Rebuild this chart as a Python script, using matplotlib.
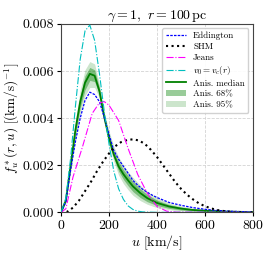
import matplotlib
matplotlib.use("Agg")
from matplotlib import pyplot as plt

plt.rcParams['font.family'] = 'serif'
plt.rcParams['font.serif'] = ['cmr10']
plt.rcParams['mathtext.fontset'] = 'cm'
plt.rcParams['axes.formatter.use_mathtext'] = True

# speeds (km/s) and f(u) values in units of 1e-3 (km/s)^-1
u_cyan = [0, 20, 40, 60, 80, 100, 120, 140, 160, 180, 200, 220, 240, 260, 280, 300, 320, 340, 360, 400, 800]
f_cyan = [0, 0.6, 2.3, 4.5, 6.5, 7.7, 7.95, 7.3, 5.9, 4.3, 2.9, 1.75, 1.0, 0.55, 0.27, 0.12, 0.05, 0.02, 0.01, 0, 0]

u_edd = [0, 20, 40, 60, 80, 100, 120, 140, 160, 180, 200, 220, 240, 260, 280, 300, 320, 340, 360, 380, 400,
         450, 500, 550, 600, 650, 700, 750, 800]
f_edd = [0, 0.45, 1.8, 3.0, 4.0, 4.75, 5.1, 5.0, 4.7, 4.05, 3.3, 2.62, 2.25, 1.95, 1.65, 1.35, 1.15, 0.98, 0.85,
         0.73, 0.63, 0.42, 0.3, 0.2, 0.13, 0.08, 0.05, 0.03, 0.02]

u_shm = [0, 25, 50, 75, 100, 125, 150, 175, 200, 225, 250, 275, 300, 325, 350, 375, 400, 425, 450, 475, 500,
         525, 550, 575, 600, 625, 650, 675, 700, 725, 750, 800]
f_shm = [0, 0.02, 0.2, 0.5, 0.9, 1.3, 1.75, 2.15, 2.5, 2.8, 2.98, 3.07, 3.1, 3.05, 2.9, 2.65, 2.35, 2.0, 1.65,
         1.3, 1.0, 0.75, 0.55, 0.38, 0.26, 0.17, 0.1, 0.06, 0.03, 0.01, 0, 0]

u_jeans = [0, 20, 50, 90, 130, 160, 180, 200, 240, 280, 320, 360, 400, 440, 480, 800]
f_jeans = [0, 0.15, 1.5, 2.8, 4.2, 4.65, 4.7, 4.55, 3.9, 2.7, 1.6, 0.8, 0.25, 0.05, 0.01, 0]

u_anis = [0, 20, 40, 60, 80, 100, 120, 140, 160, 180, 200, 220, 240, 260, 280, 300, 330, 360, 400, 450, 500,
          550, 600, 700, 800]
med = [0, 0.5, 2.0, 3.5, 4.7, 5.5, 5.88, 5.8, 5.15, 4.05, 3.15, 2.45, 1.95, 1.62, 1.35, 1.1, 0.82, 0.6, 0.4,
       0.25, 0.16, 0.1, 0.07, 0.03, 0.01]
lo68 = [0, 0.45, 1.85, 3.3, 4.45, 5.2, 5.6, 5.55, 5.0, 3.95, 3.0, 2.3, 1.75, 1.4, 1.12, 0.88, 0.63, 0.45, 0.29,
        0.17, 0.1, 0.06, 0.04, 0.015, 0.005]
hi68 = [0, 0.55, 2.15, 3.7, 4.95, 5.8, 6.15, 6.05, 5.3, 4.15, 3.3, 2.6, 2.15, 1.82, 1.55, 1.3, 1.0, 0.75, 0.52,
        0.33, 0.22, 0.14, 0.1, 0.045, 0.02]
lo95 = [0, 0.4, 1.7, 3.1, 4.2, 4.95, 5.3, 5.3, 4.85, 3.85, 2.85, 2.15, 1.58, 1.22, 0.95, 0.72, 0.5, 0.34, 0.2,
        0.11, 0.06, 0.035, 0.02, 0.008, 0.003]
hi95 = [0, 0.6, 2.3, 3.9, 5.2, 6.05, 6.4, 6.3, 5.45, 4.25, 3.45, 2.8, 2.35, 2.0, 1.72, 1.48, 1.15, 0.88, 0.62,
        0.4, 0.27, 0.18, 0.13, 0.06, 0.03]

def sc(L):
    return [v * 1e-3 for v in L]

fig = plt.figure(figsize=(2.7, 2.54), dpi=100)
ax = fig.add_axes([0.226, 0.164, 0.711, 0.742])

ax.fill_between(u_anis, sc(lo95), sc(hi95), color='green', alpha=0.2, lw=0, label='Anis. 95%', zorder=2)
ax.fill_between(u_anis, sc(lo68), sc(hi68), color='green', alpha=0.4, lw=0, label='Anis. 68%', zorder=2)

ax.plot(u_edd, sc(f_edd), color='blue', ls='--', lw=0.9, dashes=(2, 1), label='Eddington', zorder=4)
ax.plot(u_shm, sc(f_shm), color='black', ls=':', lw=1.5, label='SHM', zorder=4)
ax.plot(u_jeans, sc(f_jeans), color='magenta', ls='-.', lw=0.8, label='Jeans', zorder=4)
ax.plot(u_cyan, sc(f_cyan), color='c', ls='-.', lw=0.8, label=r'$v_0 = v_c(r)$', zorder=4)
ax.plot(u_anis, sc(med), color='green', lw=1.3, label='Anis. median', zorder=3)

ax.set_xlim(0, 800)
ax.set_ylim(0, 0.008)
ax.set_xticks([0, 200, 400, 600, 800])
ax.set_yticks([0, 0.002, 0.004, 0.006, 0.008])
ax.set_yticklabels(['0.000', '0.002', '0.004', '0.006', '0.008'])
ax.tick_params(labelsize=10, length=3, width=0.8, pad=2)
ax.grid(True, ls='--', color='lightgrey', lw=0.6)
for s in ax.spines.values():
    s.set_color('#444444')

ax.set_xlabel(r'$u\ [\mathrm{km/s}]$', fontsize=10, labelpad=1)
ax.set_ylabel(r'$f^*_u(r, u)\ [(\mathrm{km/s})^{-1}]$', fontsize=9.5, labelpad=1)
ax.set_title(r'$\gamma = 1,\ r = 100\,\mathrm{pc}$', fontsize=10, pad=3)

h, l = ax.get_legend_handles_labels()
order = ['Eddington', 'SHM', 'Jeans', r'$v_0 = v_c(r)$', 'Anis. median', 'Anis. 68%', 'Anis. 95%']
hh = [h[l.index(k)] for k in order]
ax.legend(hh, order, loc='upper right', fontsize=6.5, handlelength=2.2, labelspacing=0.25,
          borderpad=0.4, handletextpad=0.8, framealpha=0.9)

plt.savefig('out.png', dpi=100)
